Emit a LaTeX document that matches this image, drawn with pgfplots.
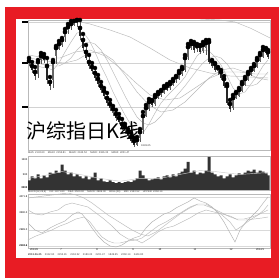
\documentclass[border=0pt]{standalone}
\usepackage{pgfplots}
\pgfplotsset{compat=1.18}
\usepackage{pgfplotstable}
\usepackage{fontspec}
\setmainfont{Liberation Sans}
\newfontfamily\cjk{Noto Sans CJK SC}
\definecolor{frame}{RGB}{232,28,36}

% candles: pixel-row scale (axis reversed), o=open c=close h=high l=low
\pgfplotstableread{
x o c h l
29 61 63 58 66
32 66 70 62 73
35 72 76 67 80
38 74 62 60 78
41 60 56 53 64
44 57 60 54 63
47 66 80 58 84
50 82 86 77 90
53 80 62 60 88
56 56 48 46 64
59 49 44 41 50
62 45 40 38 47
65 37 32 29 42
68 30 27 24 34
71 25 24 21 30
74 25 21 19 26
77 20 23 19 27
80 28 36 20 40
83 40 48 34 51
86 52 58 45 60
89 62 66 55 69
92 67 71 63 74
95 73 78 68 81
98 79 84 75 87
101 86 90 82 93
104 91 96 88 99
107 98 103 93 106
110 104 108 100 111
113 113 109 106 116
116 114 118 110 121
119 118 122 114 124
122 124 128 119 130
125 131 127 124 134
128 132 136 129 139
131 137 141 133 143
134 141 145 138 147
137 145 140 137 146
140 138 132 129 142
143 130 116 112 134
146 116 108 105 117
149 109 102 99 111
152 101 105 100 107
155 104 97 95 106
158 98 94 92 99
161 95 91 90 97
164 93 88 86 94
167 86 90 84 91
170 88 84 82 90
173 85 81 79 86
176 80 77 76 83
179 79 73 71 80
182 74 69 67 76
185 70 58 55 72
188 57 47 44 60
191 48 44 41 50
194 44 50 42 53
197 49 46 44 52
200 46 52 45 54
203 51 45 42 53
206 48 43 40 55
209 42 62 40 64
212 61 66 60 68
215 64 70 63 72
218 71 68 67 75
221 72 78 70 80
224 79 86 76 88
227 86 103 84 105
230 104 109 100 112
233 108 98 95 110
236 98 93 92 99
239 96 90 88 97
242 91 84 82 92
245 85 79 77 86
248 80 74 72 81
251 75 70 68 76
254 71 66 64 72
257 67 60 58 68
260 61 55 53 62
263 57 50 47 58
266 49 53 48 55
268 52 57 50 59
}\candles

\pgfplotstableread{
x v
29 10
32 14
35 12
38 16
41 12
44 15
47 13
50 18
53 17
56 20
59 18
62 26
65 20
68 16
71 18
74 14
77 16
80 14
83 12
86 14
89 11
92 13
95 18
98 10
101 12
104 9
107 8
110 10
113 8
116 7
119 8
122 7
125 8
128 9
131 8
134 10
137 12
140 20
143 15
146 12
149 10
152 11
155 12
158 13
161 11
164 14
167 15
170 13
173 16
176 14
179 17
182 19
185 22
188 29
191 18
194 20
197 16
200 18
203 17
206 20
209 34
212 18
215 16
218 14
221 15
224 12
227 14
230 16
233 13
236 15
239 17
242 16
245 18
248 20
251 19
254 21
257 18
260 20
263 19
266 17
268 15
}\volume

\pgfplotsset{panel/.style={scale only axis, width=242pt, xmin=28, xmax=270,
  anchor=south west, axis line style={gray!55, line width=0.4pt},
  xtick=\empty, ytick=\empty, clip=true},
  ma/.style={gray!55, line width=0.45pt, mark=none}}

\begin{document}
\begin{tikzpicture}
\useasboundingbox (0pt,0pt) rectangle (279pt,278pt);
\fill[white] (0pt,0pt) rectangle (279pt,278pt);
\fill[frame] (5pt,0pt) rectangle (279pt,271pt);
\fill[white] (16pt,20pt) rectangle (271pt,259pt);

% price panel
\begin{axis}[panel, at={(28pt,128pt)}, height=130pt, ymin=20, ymax=150, y dir=reverse,
  ytick={22,63,107}, yticklabels={}, ymajorgrids, grid style={gray!35, line width=0.4pt},
  ytick pos=left, tick align=outside, major tick length=6pt,
  major tick style={black, line width=1.3pt}]
\addplot[ma] coordinates {(29,62)(35,66)(41,67)(47,68)(53,70)(59,63)(65,52)(71,42)(77,33)(83,32)(89,40)(95,52)(101,66)(107,78)(113,92)(119,104)(125,115)(131,125)(137,134)(143,133)(149,124)(155,113)(161,103)(167,96)(173,90)(179,84)(185,77)(191,66)(197,56)(203,50)(209,51)(215,57)(221,65)(227,76)(233,88)(239,94)(245,92)(251,84)(257,76)(263,66)(268,60)};
\addplot[ma] coordinates {(29,60)(35,62)(41,64)(47,65)(53,66)(59,66)(65,63)(71,58)(77,50)(83,44)(89,42)(95,44)(101,50)(107,60)(113,72)(119,84)(125,96)(131,107)(137,117)(143,123)(149,125)(155,122)(161,116)(167,108)(173,100)(179,93)(185,86)(191,78)(197,70)(203,63)(209,58)(215,56)(221,58)(227,64)(233,72)(239,80)(245,85)(251,86)(257,84)(263,78)(268,72)};
\addplot[ma] coordinates {(29,58)(41,60)(53,62)(65,63)(77,60)(89,53)(101,52)(113,60)(125,75)(137,92)(149,105)(161,112)(173,110)(185,102)(197,90)(209,78)(221,70)(233,68)(245,72)(257,78)(268,80)};
\addplot[ma] coordinates {(29,55)(45,58)(60,58)(75,52)(90,50)(105,56)(120,68)(135,82)(150,95)(165,100)(180,98)(195,88)(210,78)(225,72)(240,72)(255,74)(268,74)};
\addplot[ma] coordinates {(70,20)(90,24)(110,30)(130,37)(150,48)(170,60)(190,68)(210,73)(230,76)(250,77)(268,78)};
\addplot[ma] coordinates {(200,19)(220,20)(235,22)(250,28)(262,34)(270,38)};
% wicks
\addplot[only marks, mark=none, error bars/.cd, y dir=plus, y explicit, error mark=none,
  error bar style={black!65, line width=0.45pt}]
  table[x=x, y=h, y error expr=\thisrow{l}-\thisrow{h}] {\candles};
% falling candles (dark)
\addplot[only marks, mark=none, error bars/.cd, y dir=plus, y explicit, error mark=none,
  error bar style={black!85, line width=1.4pt}]
  table[x=x, y expr={min(\thisrow{o},\thisrow{c})}, y error expr={(\thisrow{c}>\thisrow{o})*abs(\thisrow{c}-\thisrow{o})}] {\candles};
% rising candles (grey)
\addplot[only marks, mark=none, error bars/.cd, y dir=plus, y explicit, error mark=none,
  error bar style={black!60, line width=1.4pt}]
  table[x=x, y expr={min(\thisrow{o},\thisrow{c})}, y error expr={(\thisrow{c}<\thisrow{o})*abs(\thisrow{c}-\thisrow{o})}] {\candles};
\end{axis}

% volume panel
\begin{axis}[panel, at={(28pt,88pt)}, height=34pt, ymin=0, ymax=35,
  ytick={2,16,31}, yticklabels={\textbf{0000},500,1500}, ytick pos=left,
  yticklabel style={font=\fontsize{2.6}{3}\selectfont, inner sep=0.5pt},
  major tick length=0pt]
\addplot[ybar, bar width=3pt, fill=black!80, draw=none] table[x=x, y=v] {\volume};
\addplot[ma, gray!40] coordinates {(29,12)(45,15)(62,19)(80,16)(100,12)(120,9)(140,12)(160,12)(180,16)(200,20)(215,19)(240,16)(268,18)};
\end{axis}

% indicator panel
\begin{axis}[panel, at={(28pt,30pt)}, height=54pt, ymin=194, ymax=248, y dir=reverse,
  ytick={197,213,230,246}, yticklabels={4071.8,3500.0,2989.0,\textbf{2132.6}}, ytick pos=left,
  yticklabel style={font=\fontsize{2.6}{3}\selectfont, inner sep=0.5pt},
  ymajorgrids, grid style={gray!30, line width=0.4pt}, major tick length=0pt,
  xtick={34,61,97,133,160,195,231,260}, xticklabels={2013/6,7,8,9,10,11,12,2014/1},
  xticklabel style={font=\fontsize{2.6}{3}\selectfont, inner sep=0.5pt}, xtick pos=bottom]
\addplot[ma, gray!60] coordinates {(28,223)(35,230)(42,233)(50,228)(58,224)(65,221)(72,215)(78,212)(82,214)(86,219)(92,228)(98,236)(104,242)(110,246)(116,247)(122,245)(128,241)(134,238)(140,236)(146,228)(152,222)(158,218)(164,214)(170,212)(176,208)(182,205)(188,202)(194,198)(200,201)(206,203)(212,207)(218,213)(224,222)(230,233)(235,242)(240,230)(246,222)(252,216)(258,210)(264,202)(268,197)};
\addplot[ma] coordinates {(28,210)(35,214)(42,215)(50,212)(58,210)(65,205)(72,203)(80,205)(88,207)(96,213)(104,219)(112,226)(120,234)(128,239)(136,240)(142,238)(150,232)(158,226)(166,222)(174,217)(182,212)(190,207)(198,204)(206,204)(214,209)(222,215)(230,222)(236,230)(242,226)(250,220)(258,215)(264,210)(268,205)};
\addplot[ma] coordinates {(28,198)(36,197)(44,196)(52,195)(60,194)(68,193)(76,195)(84,198)(92,203)(100,209)(108,215)(116,220)(124,225)(132,230)(140,234)(148,236)(156,232)(164,226)(172,220)(180,214)(188,209)(196,205)(204,205)(212,208)(220,212)(228,216)(236,219)(244,219)(252,217)(260,214)(268,210)};
\addplot[ma] coordinates {(28,240)(36,236)(44,233)(52,230)(60,226)(68,223)(76,219)(84,217)(90,222)(96,230)(102,237)(108,241)(114,243)(120,243)(128,241)(136,240)(142,243)(150,238)(158,232)(166,228)(174,226)(182,222)(190,218)(198,213)(206,210)(214,212)(222,214)(230,216)(238,220)(246,220)(254,219)(262,218)(268,217)};
\end{axis}

% header / footer texts
\node[anchor=west, inner sep=0, text=black!75, font=\fontsize{2.6}{3}\selectfont] at (28pt,125pt) {MA5: 2132.60 \quad MA10: 2155.81 \quad MA20: 2163.52 \quad MA30: 2186.33 \quad MA60: 2201.47};
\node[anchor=west, inner sep=0, text=black!75, font=\fontsize{2.6}{3}\selectfont] at (28pt,86pt) {MACD(12,26,9) \quad DIF: 4071.80 \quad DEA: 3500.00 \quad MACD: 2989.00 \quad BOLL(20) \quad MID: 2163.52 \quad UPPER: 2260.14};
\node[anchor=west, inner sep=0, text=black!75, font=\fontsize{2.6}{3}\selectfont] at (28pt,23pt) {\textbf{2013-06-25} \quad 2132.60 \quad 2155.81 \quad 2163.52 \quad 2186.33 \quad 2201.47 \quad 1849.65 \quad 2260.14 \quad 2444.80};
\node[anchor=west, inner sep=0, text=black!75, font=\fontsize{2.6}{3}\selectfont] at (141pt,132pt) {1849.65};
\node[anchor=west, inner sep=0, font=\cjk\fontsize{20}{20}\selectfont] at (26pt,147pt) {沪综指日K线};
\end{tikzpicture}
\end{document}
